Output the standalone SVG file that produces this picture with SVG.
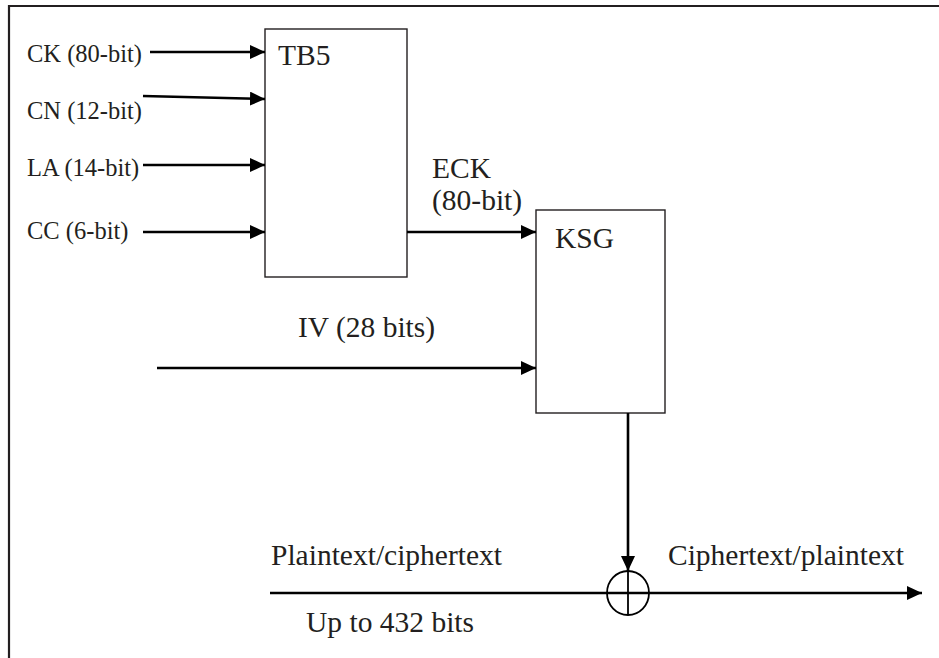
<svg xmlns="http://www.w3.org/2000/svg" width="939" height="658" viewBox="0 0 939 658">
<style>
  .frame { stroke: #231f20; stroke-width: 2.2; fill: none; }
  .box { stroke: #231f20; stroke-width: 1.4; fill: none; }
  .wire { stroke: #000; stroke-width: 2.6; fill: none; }
  .thin { stroke: #000; stroke-width: 1.8; fill: none; }
  text { font-family: "Liberation Serif", "Times New Roman", serif; fill: #231f20; }
  .sm { font-size: 24.5px; }
  .lg { font-size: 29.5px; }
</style>
<defs>
  <marker id="arr" markerUnits="userSpaceOnUse" markerWidth="16" markerHeight="14" refX="15" refY="7" orient="auto">
    <path d="M0,0 L15,7 L0,14 z" fill="#000"/>
  </marker>
</defs>
<rect width="939" height="658" fill="#fff"/>
<path class="frame" d="M9,658 L9,6 L939,6"/>

<g id="tb5">
  <rect class="box" x="265" y="29" width="142" height="248"/>
  <text class="lg" x="278" y="65">TB5</text>
</g>
<g id="ksg">
  <rect class="box" x="536" y="210" width="129" height="203"/>
  <text class="lg" x="555" y="248">KSG</text>
</g>
<g id="xor">
  <ellipse class="thin" cx="628" cy="593" rx="21" ry="22"/>
  <line class="thin" x1="628" y1="571" x2="628" y2="615"/>
</g>
<g id="labels">
  <text class="sm" x="27" y="62">CK (80-bit)</text>
  <text class="sm" x="27" y="119">CN (12-bit)</text>
  <text class="sm" x="27" y="176">LA (14-bit)</text>
  <text class="sm" x="27" y="239">CC (6-bit)</text>
  <text class="lg" x="432" y="178">ECK</text>
  <text class="lg" x="432" y="210">(80-bit)</text>
  <text class="lg" x="298" y="337">IV (28 bits)</text>
  <text class="lg" x="271" y="565">Plaintext/ciphertext</text>
  <text class="lg" x="668" y="565">Ciphertext/plaintext</text>
  <text class="lg" x="306" y="632">Up to 432 bits</text>
</g>
<g id="connectors">
  <line class="wire" x1="150" y1="52" x2="265" y2="52" marker-end="url(#arr)"/>
  <line class="wire" x1="143" y1="96" x2="265" y2="99" marker-end="url(#arr)"/>
  <line class="wire" x1="143" y1="165" x2="265" y2="165" marker-end="url(#arr)"/>
  <line class="wire" x1="143" y1="232" x2="265" y2="232" marker-end="url(#arr)"/>
  <line class="wire" x1="407" y1="232" x2="536" y2="232" marker-end="url(#arr)"/>
  <line class="wire" x1="157" y1="368" x2="536" y2="368" marker-end="url(#arr)"/>
  <line class="wire" x1="628" y1="413" x2="628" y2="571" marker-end="url(#arr)"/>
  <line class="wire" x1="270" y1="593" x2="922" y2="593" marker-end="url(#arr)"/>
</g>
</svg>
